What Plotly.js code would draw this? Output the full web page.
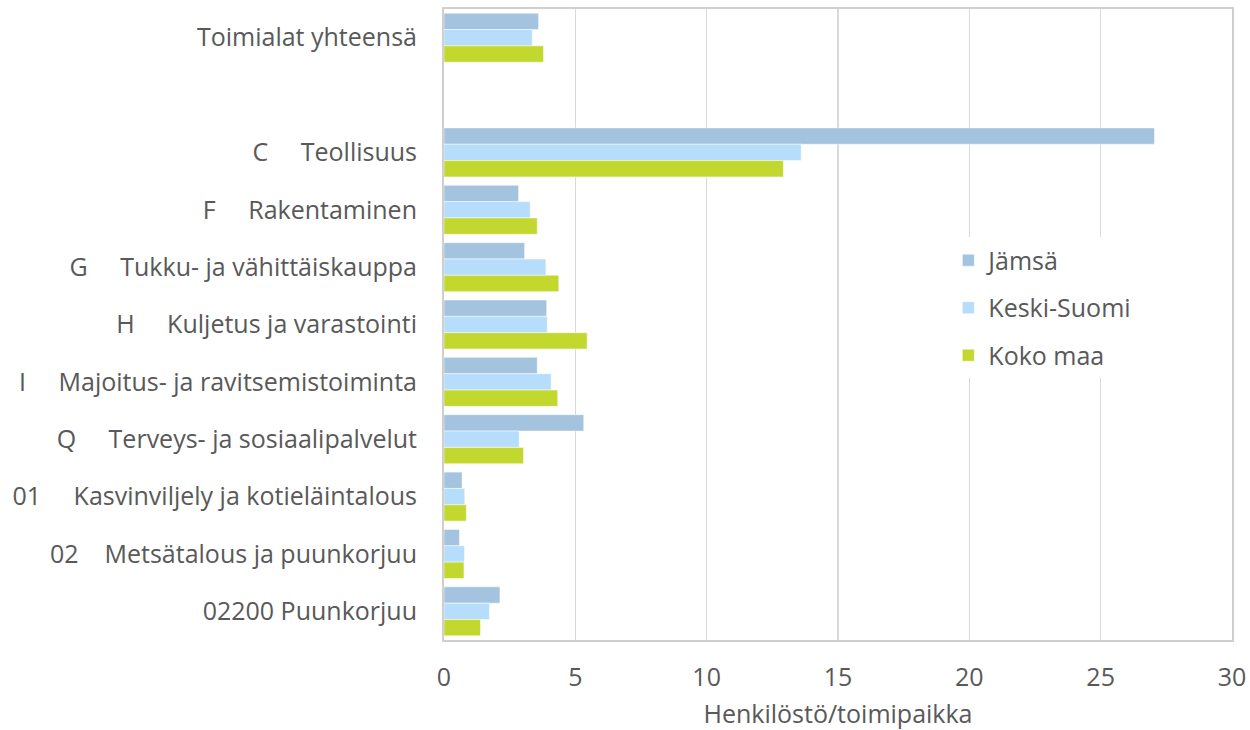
<!DOCTYPE html>
<html>
<head>
<meta charset="utf-8">
<script src="https://cdn.plot.ly/plotly-3.0.1.min.js"></script>
<style>html,body{margin:0;padding:0;background:#fff;}#chart{width:1250px;height:730px;}</style>
</head>
<body>
<div id="chart"></div>
<script>
var NB = '\u00a0';
function gap(n){ return NB.repeat(n); }
var categories = [
  'Toimialat yhteensä',
  NB,
  'C' + gap(5) + 'Teollisuus',
  'F' + gap(5) + 'Rakentaminen',
  'G' + gap(5) + 'Tukku- ja vähittäiskauppa',
  'H' + gap(5) + 'Kuljetus ja varastointi',
  'I' + gap(5) + 'Majoitus- ja ravitsemistoiminta',
  'Q' + gap(5) + 'Terveys- ja sosiaalipalvelut',
  '01' + gap(5) + 'Kasvinviljely ja kotieläintalous',
  '02' + gap(4) + 'Metsätalous ja puunkorjuu',
  '02200 Puunkorjuu'
];
var seriesNames = ['Jämsä', 'Keski-Suomi', 'Koko maa'];
var jamsa      = [3.60, null, 27.05, 2.84, 3.07, 3.91, 3.55, 5.32, 0.69, 0.59, 2.13];
var keskiSuomi = [3.36, null, 13.60, 3.28, 3.88, 3.93, 4.08, 2.86, 0.79, 0.78, 1.73];
var kokoMaa    = [3.79, null, 12.92, 3.55, 4.37, 5.45, 4.33, 3.03, 0.85, 0.76, 1.39];
var colors = ['#a3c3df', '#b6ddfb', '#c2d82e'];
var values = [jamsa, keskiSuomi, kokoMaa];

var traces = values.map(function(v, i){
  return {
    type: 'bar', orientation: 'h',
    name: seriesNames[i], x: v, y: categories,
    legendgroup: 'g' + i,
    marker: {color: colors[i], line: {color: 'rgba(255,255,255,0.5)', width: 1}},
    hoverinfo: 'x+name'
  };
});

var fontFam = '"Open Sans", "Noto Sans", sans-serif';
var FS = 25;
var layout = {
  width: 1250, height: 730,
  margin: {l: 444, r: 18, t: 9, b: 90},
  paper_bgcolor: '#ffffff', plot_bgcolor: '#ffffff',
  font: {family: fontFam, size: FS, color: '#595959'},
  barmode: 'group', bargap: 0.146, bargroupgap: 0,
  showlegend: true,
  legend: {
    x: 0.64, xanchor: 'left', y: 0.638, yanchor: 'top',
    bgcolor: '#ffffff', borderwidth: 0,
    traceorder: 'grouped', tracegroupgap: 12,
    font: {family: fontFam, size: FS, color: '#595959'}
  },
  xaxis: {
    range: [0, 30], dtick: 5, tick0: 0,
    showgrid: true, gridcolor: '#d9d9d9', gridwidth: 1.5,
    zeroline: false,
    showline: true, mirror: true, linecolor: '#cfcfcf', linewidth: 2,
    ticks: '', ticklabelstandoff: 14,
    tickfont: {family: fontFam, size: FS, color: '#595959'},
    title: {text: 'Henkilöstö/toimipaikka', standoff: 18, font: {family: fontFam, size: FS, color: '#595959'}}
  },
  yaxis: {
    type: 'category', autorange: 'reversed',
    showgrid: false, zeroline: false,
    showline: true, mirror: true, linecolor: '#cfcfcf', linewidth: 2,
    ticks: '', ticklabelstandoff: 20,
    tickfont: {family: fontFam, size: FS, color: '#595959'}
  }
};

Plotly.newPlot('chart', traces, layout, {displayModeBar: false, staticPlot: true});
</script>
</body>
</html>
